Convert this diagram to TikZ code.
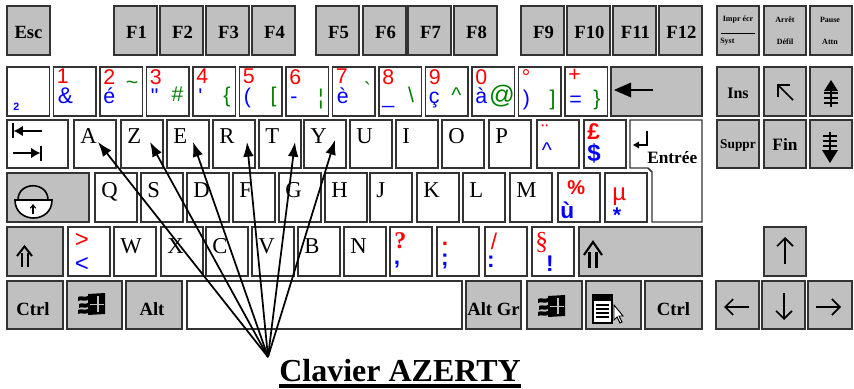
\documentclass[tikz,border=0pt]{standalone}
\usepackage{fontspec}
\setmainfont{Liberation Serif}
\newfontfamily\sansf{Liberation Sans}
\usetikzlibrary{arrows.meta}
\definecolor{keygray}{HTML}{C0C0C0}
\definecolor{keyline}{HTML}{333333}
\definecolor{kred}{HTML}{FF0000}
\definecolor{kblue}{HTML}{0000FF}
\definecolor{kgreen}{HTML}{008000}
\newcommand\fsz[1]{\fontsize{#1}{#1}\selectfont}
\newcommand\keyb[6]{\node[#6, minimum width={(#4-(#2))*0.75pt}, minimum height={(#5-(#3))*0.75pt}] (#1) at (#2,#3) {};}
\newcommand\winicon[2]{%
  \begin{scope}[shift={(#1,#2)}]
    \fill (10,1) -- (27,0) -- (27,21) -- (10,22) -- cycle;
    \fill[keygray] (19,3) rectangle (20.5,19);
    \fill[keygray] (12,10.5) rectangle (26,12);
    \fill (0,4) .. controls (3,2) and (6,5) .. (10,3) -- (10,7) .. controls (6,9) and (3,6) .. (0,8) -- cycle;
    \fill (1,11) .. controls (4,9) and (7,12) .. (10,10) -- (10,14) .. controls (7,16) and (4,13) .. (1,15) -- cycle;
    \fill (0,17) .. controls (3,15) and (6,18) .. (10,16) -- (10,20) .. controls (6,22) and (3,19) .. (0,21) -- cycle;
  \end{scope}}
\begin{document}
\begin{tikzpicture}[x=0.75pt,y=-0.75pt,
 key/.style={draw=keyline, line width=1.1pt, inner sep=0pt, outer sep=0pt, anchor=north west, rectangle},
 gk/.style={key, fill=keygray},
 wk/.style={key, fill=white},
 lbl/.style={font=\bfseries\fsz{14}, inner sep=0pt},
 flbl/.style={font=\bfseries\fsz{14}, inner sep=0pt, anchor=base},
 ltr/.style={font=\fsz{17}, inner sep=0pt, anchor=north west},
 rc/.style={text=kred, font=\sansf\fsz{16}, inner sep=0pt, anchor=north west},
 bc/.style={text=kblue, font=\sansf\fsz{16}, inner sep=0pt, anchor=base west},
 gc/.style={text=kgreen, font=\sansf\fsz{16}, inner sep=0pt, anchor=base},
 tinyl/.style={font=\bfseries\fsz{6}, inner sep=0pt},
 ico/.style={line width=1.2pt},
 arr/.style={line width=1.3pt, -{Latex[length=11pt,width=8pt]}}
]
\useasboundingbox (0,0) rectangle (854,389);
\fill[white] (0,0) rectangle (854,389);

% ---------- row 1
\keyb{kEsc}{7}{6}{50}{55}{gk}
\node[flbl] (lEsc) at ([shift={(21.5,32)}]kEsc.north west) {Esc};
\foreach \n/\x in {1/114,2/160,3/206,4/252,5/316,6/363,7/408,8/454,9/521,10/567,11/613,12/659}{
  \keyb{kF\n}{\x}{6}{\x+43}{55}{gk}
  \node[flbl] (lF\n) at ([shift={(22.5,32)}]kF\n.north west) {F\n};
}
\keyb{kImpr}{717}{6}{759}{55}{gk}
\keyb{kScr}{764}{6}{806}{55}{gk}
\keyb{kPause}{810}{6}{852}{55}{gk}
\node[tinyl] (tImpr) at (738,20) {Impr écr};
\draw[line width=0.6pt] (721,33) -- (755,33);
\node[tinyl, anchor=west] (tSyst) at (720,42) {Syst};
\node[tinyl] (tArr) at (785,20) {Arrêt};
\node[tinyl] (tDef) at (785,42) {Défil};
\node[tinyl] (tPau) at (830,20) {Pause};
\node[tinyl] (tAtt) at (830,42) {Attn};

% ---------- row 2
\foreach \i in {0,...,12}{
  \pgfmathsetmacro\xx{7+46.5*\i}
  \keyb{kN\i}{\xx}{67}{\xx+42.5}{116}{wk}
}
\keyb{kBack}{611}{67}{702}{116}{gk}
\keyb{kIns}{717}{67}{759}{116}{gk}
\keyb{kHome}{764}{67}{806}{116}{gk}
\keyb{kPgUp}{810}{67}{852}{116}{gk}

\node[text=kblue, font=\sansf\bfseries\fsz{8}, inner sep=0pt, anchor=base west] (c0b) at ([shift={(6,43)}]kN0.north west) {2};
\node[rc] (c1r) at ([shift={(3,2)}]kN1.north west) {1};
\node[bc, font=\sansf\fsz{17}] (c1b) at ([shift={(4,36)}]kN1.north west) {\&};
\node[rc] (c2r) at ([shift={(3,2)}]kN2.north west) {2};
\node[bc] (c2b) at ([shift={(3,36)}]kN2.north west) {é};
\node[gc, anchor=center] (c2g) at ([shift={(32,18)}]kN2.north west) {\textasciitilde};
\node[rc] (c3r) at ([shift={(3,2)}]kN3.north west) {3};
\node[bc] (c3b) at ([shift={(4,36)}]kN3.north west) {\symbol{34}};
\node[gc] (c3g) at ([shift={(31,34)}]kN3.north west) {\#};
\node[rc] (c4r) at ([shift={(3,2)}]kN4.north west) {4};
\node[bc] (c4b) at ([shift={(5,36)}]kN4.north west) {\symbol{39}};
\node[gc] (c4g) at ([shift={(34,35)}]kN4.north west) {\{};
\node[rc] (c5r) at ([shift={(3,2)}]kN5.north west) {5};
\node[bc] (c5b) at ([shift={(4,36)}]kN5.north west) {(};
\node[gc] (c5g) at ([shift={(34,35)}]kN5.north west) {[};
\node[rc] (c6r) at ([shift={(3,2)}]kN6.north west) {6};
\node[bc] (c6b) at ([shift={(4,36)}]kN6.north west) {-};
\node[gc] (c6g) at ([shift={(35,37)}]kN6.north west) {¦};
\node[rc] (c7r) at ([shift={(3,2)}]kN7.north west) {7};
\node[bc] (c7b) at ([shift={(4,36)}]kN7.north west) {è};
\node[gc] (c7g) at ([shift={(35,30)}]kN7.north west) {\symbol{96}};
\node[rc] (c8r) at ([shift={(3,2)}]kN8.north west) {8};
\node[bc] (c8b) at ([shift={(3,36)}]kN8.north west) {\_};
\node[gc] (c8g) at ([shift={(32,35)}]kN8.north west) {\textbackslash};
\node[rc] (c9r) at ([shift={(3,2)}]kN9.north west) {9};
\node[bc] (c9b) at ([shift={(3,36)}]kN9.north west) {ç};
\node[gc] (c9g) at ([shift={(31,35)}]kN9.north west) {\textasciicircum};
\node[rc] (c10r) at ([shift={(3,2)}]kN10.north west) {0};
\node[bc] (c10b) at ([shift={(3,36)}]kN10.north west) {à};
\node[gc, font=\sansf\fsz{19}] (c10g) at ([shift={(30,36)}]kN10.north west) {@};
\node[rc] (c11r) at ([shift={(3,2)}]kN11.north west) {°};
\node[bc] (c11b) at ([shift={(4,38)}]kN11.north west) {)};
\node[gc] (c11g) at ([shift={(34,38)}]kN11.north west) {]};
\node[rc] (c12r) at ([shift={(3,2)}]kN12.north west) {+};
\node[bc] (c12b) at ([shift={(4,39)}]kN12.north west) {=};
\node[gc] (c12g) at ([shift={(32,38)}]kN12.north west) {\}};
% backspace arrow
\draw[line width=2pt] (626,90) -- (653,90);
\fill (614,90) -- (631,82.5) -- (631,97.5) -- cycle;
\node[flbl, font=\bfseries\fsz{12}] (lIns) at ([shift={(21,31)}]kIns.north west) {Ins};
\draw[ico] (793,100) -- (778,85);
\draw[ico] (790,85) -- (778,85) -- (778,97);
\fill (824,91) -- (831,80) -- (838,91) -- cycle;
\draw[line width=1.8pt] (831,90) -- (831,107);
\draw[line width=1.3pt] (824,93) -- (838,93) (824,98) -- (838,98) (824,103) -- (838,103);

% ---------- row 3
\keyb{kTab}{7}{120}{68}{168}{wk}
\draw[ico] (13,123) -- (13,138);
\draw[ico, -{Latex[length=7pt,width=8pt]}] (42,131) -- (13.6,131);
\draw[ico, -{Latex[length=7pt,width=8pt]}] (13,153) -- (40.4,153);
\draw[ico] (41,146) -- (41,161);
\foreach \l/\x in {A/74,Z/121,E/167,R/213,T/259,Y/304,U/350,I/396,O/442,P/489}{
  \keyb{k\l}{\x}{120}{\x+42}{168}{wk}
  \node[ltr] (t\l) at ([shift={(6,8)}]k\l.north west) {\l};
}
\keyb{kDia}{537}{120}{579}{168}{wk}
\node[rc, anchor=center] (cDr) at ([shift={(8,12)}]kDia.north west) {¨};
\node[bc, font=\sansf\fsz{16}, anchor=center] (cDb) at ([shift={(10,30)}]kDia.north west) {\textasciicircum};
\keyb{kPound}{584}{120}{626}{168}{wk}
\node[rc, font=\sansf\bfseries\fsz{17}] (cPr) at ([shift={(3,3)}]kPound.north west) {£};
\node[bc, font=\sansf\bfseries\fsz{18}] (cPb) at ([shift={(3,41)}]kPound.north west) {\$};
\draw[draw=keyline, line width=1.1pt, fill=white] (630,120) -- (702,120) -- (702,222) -- (652,222) -- (652,172) -- (648,168) -- (630,168) -- cycle;
\coordinate (kEnter) at (666,145);
\draw[ico] (647,131) -- (647,145) -- (637,145);
\fill (633,145) -- (639,141.5) -- (639,148.5) -- cycle;
\node[lbl, font=\bfseries\fsz{13}, anchor=base west] (lEnt) at (647,163) {Entrée};
\keyb{kDel}{717}{120}{759}{168}{gk}
\keyb{kEnd}{764}{120}{806}{168}{gk}
\keyb{kPgDn}{810}{120}{852}{168}{gk}
\node[flbl, font=\bfseries\fsz{10}] (lDel) at ([shift={(21,28)}]kDel.north west) {Suppr};
\node[flbl, font=\bfseries\fsz{13}] (lEnd) at ([shift={(21,30)}]kEnd.north west) {Fin};
\draw[line width=1.3pt] (823,136) -- (837,136) (823,141) -- (837,141) (823,146) -- (837,146);
\draw[line width=1.8pt] (830,132) -- (830,151);
\fill (822,150) -- (830,163) -- (838,150) -- cycle;

% ---------- row 4
\keyb{kCaps}{7}{173}{89}{222}{gk}
\draw[ico, fill=white] (15,200) .. controls (15,224) and (52,224) .. (52,200) -- cycle;
\draw[ico] (18,200) .. controls (18,181) and (48,181) .. (48,200);
\draw[line width=0.8pt, -{Straight Barb[length=2.5pt,width=4pt]}] (33,214) -- (33,204);
\foreach \l/\x in {Q/95,S/141,D/187,F/233,G/279,H/325,J/370,K/417,L/463,M/510}{
  \keyb{k\l}{\x}{173}{\x+42}{222}{wk}
  \node[ltr] (t\l) at ([shift={(6,9)}]k\l.north west) {\l};
}
\keyb{kPct}{558}{173}{600}{222}{wk}
\node[rc, font=\sansf\bfseries\fsz{15}] (cPcr) at ([shift={(9,7)}]kPct.north west) {\%};
\node[bc, font=\sansf\bfseries\fsz{17}] (cPcb) at ([shift={(2,45)}]kPct.north west) {ù};
\keyb{kMu}{605}{173}{647}{222}{wk}
\node[rc, font=\sansf\fsz{18}, anchor=base west] (cMr) at ([shift={(7,27)}]kMu.north west) {µ};
\node[bc, font=\sansf\bfseries\fsz{16}, anchor=center] (cMb) at ([shift={(12,42)}]kMu.north west) {*};

% ---------- row 5
\keyb{kShL}{7}{227}{63}{276}{gk}
\draw[line width=1.5pt] (21.5,267) -- (21.5,253) (27.5,267) -- (27.5,253);
\draw[line width=1.5pt, line join=miter] (17,256) -- (24.5,246.5) -- (32,256);
\keyb{kLt}{68}{227}{110}{276}{wk}
\node[rc, font=\sansf\fsz{18}, anchor=center] (cLr) at ([shift={(14,14)}]kLt.north west) {>};
\node[bc, font=\sansf\fsz{18}, anchor=center] (cLb) at ([shift={(14,38)}]kLt.north west) {<};
\foreach \l/\x in {W/114,X/161,C/206,V/252,B/298,N/344}{
  \keyb{k\l}{\x}{227}{\x+42}{276}{wk}
  \node[ltr] (t\l) at ([shift={(6,11)}]k\l.north west) {\l};
}
\keyb{kQm}{390}{227}{432}{276}{wk}
\node[rc, font=\bfseries\fsz{18}] (cQr) at ([shift={(4,5)}]kQm.north west) {?};
\node[bc, font=\sansf\bfseries\fsz{17}, anchor=center] (cQb) at ([shift={(7,38)}]kQm.north west) {,};
\keyb{kSemi}{437}{227}{479}{276}{wk}
\node[rc, font=\sansf\bfseries\fsz{17}, anchor=center] (cSr) at ([shift={(8,17)}]kSemi.north west) {.};
\node[bc, font=\sansf\bfseries\fsz{17}, anchor=center] (cSb) at ([shift={(8,35)}]kSemi.north west) {;};
\keyb{kSlash}{485}{227}{527}{276}{wk}
\node[rc, font=\sansf\fsz{17}, anchor=center] (cSlr) at ([shift={(9,14)}]kSlash.north west) {/};
\node[bc, font=\sansf\bfseries\fsz{17}, anchor=center] (cSlb) at ([shift={(6,35)}]kSlash.north west) {:};
\keyb{kSect}{532}{227}{574}{276}{wk}
\node[rc, font=\fsz{19}] (cSer) at ([shift={(3,5)}]kSect.north west) {§};
\node[bc, font=\sansf\bfseries\fsz{17}, anchor=center] (cSeb) at ([shift={(18,37)}]kSect.north west) {!};
\keyb{kShR}{579}{227}{702}{276}{gk}
\draw[line width=1.6pt] (589.5,268) -- (589.5,252) (596.5,268) -- (596.5,252);
\draw[line width=1.6pt, line join=miter] (584,255) -- (593,242) -- (602,255);
\keyb{kUp}{764}{227}{806}{276}{gk}
\draw[ico, -{Straight Barb[length=6pt,width=12pt]}] (785,264) -- (785,237);

% ---------- row 6
\keyb{kCtrlL}{7}{281}{63}{329}{gk}
\keyb{kWinL}{67}{281}{122}{329}{gk}
\keyb{kAlt}{126}{281}{182}{329}{gk}
\keyb{kSpace}{187}{281}{462}{329}{wk}
\keyb{kAltGr}{466}{281}{521}{329}{gk}
\keyb{kWinR}{527}{281}{582}{329}{gk}
\keyb{kMenu}{586}{281}{641}{329}{gk}
\keyb{kCtrlR}{645}{281}{702}{329}{gk}
\keyb{kLeft}{716}{281}{759}{329}{gk}
\keyb{kDown}{762}{281}{805}{329}{gk}
\keyb{kRight}{808}{281}{852}{329}{gk}
\node[flbl] (lCtrlL) at ([shift={(26,34)}]kCtrlL.north west) {Ctrl};
\node[flbl] (lAlt) at ([shift={(26,34)}]kAlt.north west) {Alt};
\node[flbl] (lAltGr) at ([shift={(27.5,34)}]kAltGr.north west) {Alt Gr};
\node[flbl] (lCtrlR) at ([shift={(28.5,34)}]kCtrlR.north west) {Ctrl};
\winicon{78}{293}
\winicon{538}{295}
\draw[line width=1.2pt, fill=white] (593,295) rectangle (612,323);
\fill (593,295) rectangle (612,301);
\draw[line width=1pt] (596,305) -- (609,305) (596,309) -- (609,309) (596,313) -- (609,313) (596,317) -- (609,317);
\draw[line width=0.7pt, fill=white] (614,305) -- (614,320) -- (617,317) -- (620,323) -- (622,322) -- (619,316) -- (623,316) -- cycle;
\draw[ico, -{Straight Barb[length=6pt,width=12pt]}] (749,307) -- (724,307);
\draw[ico, -{Straight Barb[length=6pt,width=12pt]}] (784,293) -- (784,320);
\draw[ico, -{Straight Barb[length=6pt,width=12pt]}] (816,307) -- (841,307);

% ---------- arrows and title
\coordinate (hub) at (268,357);
\coordinate (tipA) at (98,142);
\coordinate (tipZ) at (150,142);
\coordinate (tipE) at (193,142);
\coordinate (tipR) at (247,142);
\coordinate (tipT) at (295,142);
\coordinate (tipY) at (335,140);
\foreach \t in {A,Z,E,R,T,Y}{\draw[arr] (hub) -- (tip\t);}
\node[font=\bfseries\fsz{24}, inner sep=0pt, anchor=base west] (title) at (279,381) {Clavier AZERTY};
\draw[line width=2.6pt] ([yshift=-3.9pt]title.base west) -- ([yshift=-3.9pt]title.base east);
\end{tikzpicture}
\end{document}
